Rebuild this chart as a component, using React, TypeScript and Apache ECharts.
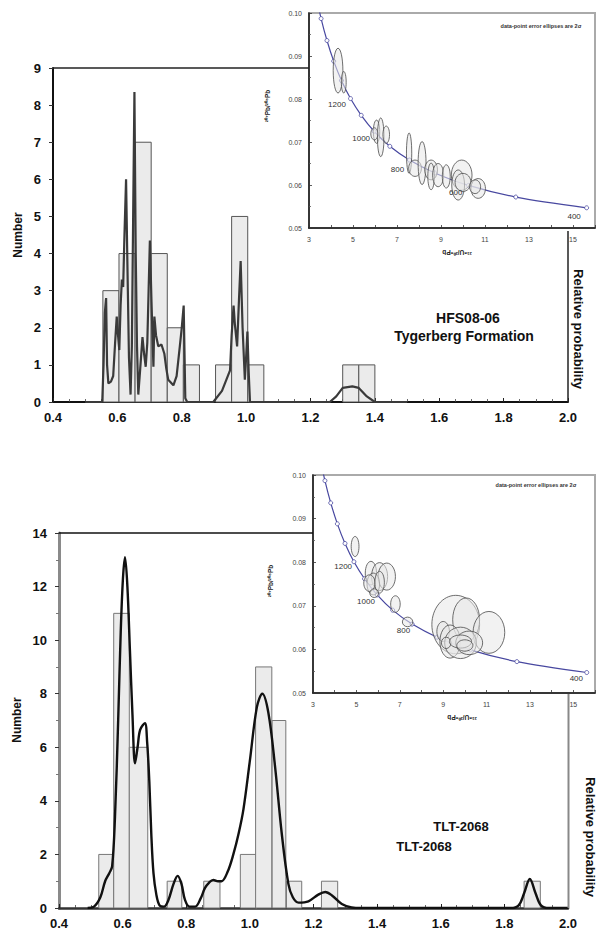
import React, { useEffect, useRef } from 'react';
import * as echarts from 'echarts';

// ---------- Top panel: HFS08-06 ----------
const topBinLeft = [0.555, 0.605, 0.655, 0.705, 0.755, 0.805, 0.905, 0.955, 1.005, 1.30, 1.35];
const topBinRight = [0.605, 0.655, 0.705, 0.755, 0.805, 0.855, 0.955, 1.005, 1.055, 1.35, 1.40];
const topCounts = [3, 4, 7, 4, 2, 1, 1, 5, 1, 1, 1];

const topCurveX = [0.50, 0.553, 0.557, 0.561, 0.565, 0.568, 0.572, 0.580, 0.587, 0.593, 0.598, 0.602, 0.606, 0.610, 0.614, 0.618, 0.622, 0.627, 0.631, 0.636, 0.641, 0.645, 0.649, 0.653, 0.657, 0.661, 0.665, 0.671, 0.678, 0.683, 0.688, 0.693, 0.697, 0.701, 0.706, 0.712, 0.715, 0.720, 0.727, 0.737, 0.746, 0.752, 0.758, 0.774, 0.784, 0.794, 0.800, 0.806, 0.811, 0.817, 0.898, 0.925, 0.950, 0.955, 0.961, 0.965, 0.972, 0.978, 0.983, 0.989, 0.996, 1.000, 1.004, 1.008, 1.012, 1.26, 1.28, 1.30, 1.33, 1.35, 1.375, 1.40, 1.50];
const topCurveY = [0, 0, 1.0, 2.4, 2.8, 1.0, 0.5, 0.55, 0.7, 1.6, 2.3, 1.8, 1.4, 2.6, 3.3, 3.1, 4.5, 6.0, 3.8, 1.2, 0.2, 1.5, 5.0, 8.35, 4.0, 1.5, 0.2, 0.9, 1.75, 1.3, 0.95, 1.6, 3.0, 4.35, 2.7, 0.95, 2.3, 1.8, 1.5, 1.55, 1.3, 0.9, 0.6, 0.45, 0.7, 1.5, 2.0, 2.6, 0.1, 0, 0, 0.3, 0.85, 1.8, 2.6, 2.1, 1.5, 2.8, 3.8, 2.0, 0.6, 1.2, 1.9, 0.8, 0, 0, 0.15, 0.38, 0.42, 0.38, 0.15, 0, 0];

// ---------- Bottom panel: TLT-2068 ----------
const botBinLeft = [0.525, 0.572, 0.621, 0.74, 0.855, 0.97, 1.018, 1.07, 1.115, 1.225, 1.862];
const botBinRight = [0.572, 0.621, 0.679, 0.786, 0.906, 1.022, 1.069, 1.113, 1.163, 1.276, 1.913];
const botCounts = [2, 11, 6, 1, 1, 2, 9, 7, 1, 1, 1];

const botCurveX = [0.49, 0.51, 0.53, 0.545, 0.558, 0.567, 0.576, 0.586, 0.594, 0.601, 0.6075, 0.615, 0.623, 0.631, 0.639, 0.647, 0.655, 0.670, 0.677, 0.684, 0.690, 0.697, 0.706, 0.716, 0.730, 0.744, 0.760, 0.773, 0.785, 0.796, 0.810, 0.828, 0.845, 0.859, 0.872, 0.885, 0.900, 0.911, 0.930, 0.948, 0.965, 0.980, 1.000, 1.022, 1.039, 1.058, 1.079, 1.100, 1.121, 1.135, 1.153, 1.184, 1.215, 1.237, 1.260, 1.289, 1.320, 1.350, 1.820, 1.845, 1.862, 1.880, 1.898, 1.915, 1.940, 2.0];
const botCurveY = [0, 0.05, 0.4, 1.0, 1.3, 1.55, 3.4, 7.0, 10.3, 12.3, 13.1, 12.0, 9.6, 7.2, 5.4, 6.0, 6.65, 6.9, 6.2, 4.7, 2.8, 1.3, 0.5, 0.1, 0.05, 0.3, 0.9, 1.2, 0.9, 0.3, 0.05, 0.05, 0.35, 0.75, 0.95, 1.05, 1.0, 1.0, 1.35, 2.0, 2.8, 3.7, 5.5, 7.5, 8.0, 7.3, 5.3, 2.8, 0.9, 0.4, 0.2, 0.25, 0.5, 0.6, 0.45, 0.15, 0.02, 0, 0, 0.1, 0.55, 1.08, 0.55, 0.1, 0, 0];

// ---------- Concordia (inset) ----------
const concordiaAge = [1700, 1600, 1500, 1400, 1300, 1200, 1100, 1000, 900, 800, 700, 600, 500, 400];
const concordiaX = [3.314, 3.550, 3.817, 4.123, 4.476, 4.887, 5.375, 5.959, 6.674, 7.568, 8.718, 10.25, 12.40, 15.62];
const concordiaY = [0.1042, 0.0987, 0.0936, 0.0888, 0.0843, 0.0801, 0.0762, 0.0725, 0.0690, 0.0658, 0.0628, 0.0599, 0.0572, 0.0547];

// ellipses: [centre 238U/206Pb, centre 207Pb/206Pb, half-width, half-height]
const topEllipses = [
  [4.32, 0.0866, 0.22, 0.0052], [4.58, 0.0839, 0.11, 0.0025],
  [6.07, 0.0724, 0.145, 0.0027], [6.26, 0.0711, 0.15, 0.0045], [6.51, 0.0717, 0.15, 0.0020], [5.97, 0.0719, 0.16, 0.0014],
  [7.55, 0.0674, 0.12, 0.0047], [7.82, 0.0639, 0.29, 0.0019], [8.14, 0.0651, 0.18, 0.0050], [8.55, 0.0635, 0.29, 0.0023],
  [8.55, 0.0620, 0.15, 0.0031], [8.87, 0.0623, 0.25, 0.0027], [9.24, 0.0620, 0.18, 0.0027], [9.94, 0.0623, 0.47, 0.0035],
  [9.78, 0.0600, 0.29, 0.0035], [10.0, 0.0606, 0.36, 0.0021], [10.69, 0.0592, 0.33, 0.0023], [10.55, 0.0596, 0.25, 0.0016],
];
const botEllipses = [
  [4.94, 0.0836, 0.18, 0.0023],
  [5.67, 0.0775, 0.26, 0.0027], [6.07, 0.0767, 0.37, 0.0032], [6.40, 0.0767, 0.40, 0.0031], [5.78, 0.0750, 0.29, 0.0025],
  [5.60, 0.0752, 0.26, 0.0019], [6.07, 0.0754, 0.22, 0.0025], [6.80, 0.0704, 0.22, 0.0019], [5.82, 0.0729, 0.20, 0.0010],
  [7.36, 0.0663, 0.24, 0.0011],
  [9.58, 0.0657, 1.10, 0.0067], [10.06, 0.0668, 0.62, 0.0050], [11.11, 0.0639, 0.73, 0.0048], [9.00, 0.0641, 0.29, 0.0023],
  [9.32, 0.0618, 0.47, 0.0038], [9.80, 0.0615, 0.73, 0.0036], [10.20, 0.0615, 0.62, 0.0027], [9.14, 0.0615, 0.22, 0.0013],
  [9.80, 0.0618, 0.51, 0.0015], [10.00, 0.0609, 0.37, 0.0013],
];

const topAgeText = ['1200', '1000', '800', '600', '400'];
const topAgeX = [4.27, 5.37, 7.02, 9.67, 15.05];
const topAgeY = [0.0787, 0.0709, 0.0635, 0.0582, 0.0526];
const botAgeText = ['1200', '1000', '800', '400'];
const botAgeX = [4.39, 5.44, 7.17, 15.14];
const botAgeY = [0.0790, 0.0710, 0.0644, 0.0534];

const FONT = '"Liberation Sans", Arial, sans-serif';

function histSeries(left: number[], right: number[], counts: number[], idx: number, stroke: string) {
  return {
    type: 'custom',
    xAxisIndex: idx,
    yAxisIndex: idx,
    z: 2,
    data: counts.map((c, i) => [left[i], right[i], c]),
    encode: { x: [0, 1], y: 2 },
    renderItem: (params: any, api: any) => {
      const a = api.coord([api.value(0), api.value(2)]);
      const b = api.coord([api.value(1), 0]);
      return {
        type: 'rect',
        shape: { x: a[0], y: a[1], width: b[0] - a[0], height: b[1] - a[1] },
        style: { fill: '#ebebeb', stroke, lineWidth: 1 },
      };
    },
  };
}

function ellipseSeries(data: number[][], idx: number) {
  return {
    type: 'custom',
    xAxisIndex: idx,
    yAxisIndex: idx,
    z: 4,
    clip: true,
    data,
    encode: { x: 0, y: 1 },
    renderItem: (params: any, api: any) => {
      const c = api.coord([api.value(0), api.value(1)]);
      const s = api.size([api.value(2), api.value(3)]);
      return {
        type: 'ellipse',
        shape: { cx: c[0], cy: c[1], rx: s[0], ry: s[1] },
        style: { fill: 'rgba(232,232,232,0.55)', stroke: '#4a4a4a', lineWidth: 0.8 },
      };
    },
  };
}

function ageLabelSeries(texts: string[], xs: number[], ys: number[], idx: number) {
  return {
    type: 'custom',
    xAxisIndex: idx,
    yAxisIndex: idx,
    z: 5,
    data: xs.map((x, i) => [x, ys[i]]),
    encode: { x: 0, y: 1 },
    renderItem: (params: any, api: any) => {
      const c = api.coord([api.value(0), api.value(1)]);
      return {
        type: 'text',
        x: c[0],
        y: c[1],
        style: {
          text: texts[params.dataIndex], fontSize: 8, fontFamily: FONT, fill: '#333',
          align: 'center', verticalAlign: 'middle',
        },
      };
    },
  };
}

function concordiaSeries(idx: number) {
  return {
    type: 'line',
    xAxisIndex: idx,
    yAxisIndex: idx,
    z: 3,
    clip: true,
    smooth: 0.3,
    data: concordiaX.map((x, i) => [x, concordiaY[i], concordiaAge[i]]),
    symbol: 'circle',
    symbolSize: 4,
    showSymbol: true,
    itemStyle: { color: '#ffffff', borderColor: '#4848a0', borderWidth: 0.8 },
    lineStyle: { color: '#4848a0', width: 1.2 },
  };
}

function mainX(idx: number, color: string, width: number) {
  return {
    type: 'value', gridIndex: idx, min: 0.4, max: 2.0, interval: 0.2,
    axisLine: { show: true, onZero: false, lineStyle: { color, width } },
    axisTick: { show: true, inside: true, length: 4, lineStyle: { color: '#222', width: 1 } },
    minorTick: { show: true, splitNumber: 4, length: 3, lineStyle: { color: '#444', width: 0.8 } },
    splitLine: { show: false },
    axisLabel: {
      formatter: (v: number) => v.toFixed(1), fontSize: 13, fontWeight: 'bold', fontFamily: FONT,
      color: '#111', margin: 9, showMinLabel: true, showMaxLabel: true,
    },
  };
}

function mainY(idx: number, max: number, interval: number, color: string, width: number, minor: boolean) {
  return {
    type: 'value', gridIndex: idx, min: 0, max, interval,
    axisLine: { show: true, onZero: false, lineStyle: { color, width } },
    axisTick: { show: true, inside: false, length: 4, lineStyle: { color: '#333', width: 1 } },
    minorTick: { show: minor, splitNumber: 2, length: 3, lineStyle: { color: '#777', width: 1 } },
    splitLine: { show: false },
    axisLabel: { fontSize: 13, fontWeight: 'bold', fontFamily: FONT, color: '#111', margin: 12 },
  };
}

function insetX(idx: number) {
  return {
    type: 'value', gridIndex: idx, min: 3, max: 16, interval: 1,
    axisLine: { show: true, onZero: false, lineStyle: { color: '#111', width: 1.5 } },
    axisTick: { show: true, inside: true, length: 3, lineStyle: { color: '#333', width: 0.8 } },
    splitLine: { show: false },
    axisLabel: {
      formatter: (v: number) => (Math.round(v) % 2 === 1 ? String(Math.round(v)) : ''),
      fontSize: 7, fontFamily: FONT, color: '#444', margin: 8, showMinLabel: true, showMaxLabel: true,
    },
  };
}

function insetY(idx: number) {
  return {
    type: 'value', gridIndex: idx, min: 0.05, max: 0.10, interval: 0.01,
    axisLine: { show: true, onZero: false, lineStyle: { color: '#111', width: 1.5 } },
    axisTick: { show: true, inside: true, length: 3, lineStyle: { color: '#333', width: 0.8 } },
    minorTick: { show: true, splitNumber: 2, length: 2, lineStyle: { color: '#555', width: 0.8 } },
    splitLine: { show: false },
    axisLabel: {
      formatter: (v: number) => v.toFixed(2), fontSize: 7, fontFamily: FONT, color: '#444', margin: 7,
      showMinLabel: true, showMaxLabel: true,
    },
  };
}

function txt(text: string, x: number, y: number, size: number, bold: boolean, rotation = 0, fill = '#111') {
  return {
    type: 'text', x, y, rotation, z: 50,
    style: {
      text, fontSize: size, fontWeight: bold ? 'bold' : 'normal', fontFamily: FONT, fill,
      align: 'center', verticalAlign: 'middle', textAlign: 'center', textVerticalAlign: 'middle',
    },
  };
}

function ln(x1: number, y1: number, x2: number, y2: number, stroke: string, lineWidth: number) {
  return { type: 'line', z: 50, shape: { x1, y1, x2, y2 }, style: { stroke, lineWidth } };
}

export default function App() {
  const ref = useRef<HTMLDivElement>(null);
  useEffect(() => {
    if (!ref.current) return;
    const chart = echarts.init(ref.current, undefined, { renderer: 'svg' });
    const option: any = {
      animation: false,
      backgroundColor: '#ffffff',
      grid: [
        { left: 53, top: 68, width: 515, height: 334 },
        { left: 309, top: 13, width: 297.7, height: 215, show: true, backgroundColor: '#ffffff', borderColor: '#aaaaaa', borderWidth: 2 },
        { left: 59, top: 533, width: 509, height: 375 },
        { left: 313, top: 475, width: 296.4, height: 218, show: true, backgroundColor: '#ffffff', borderColor: '#aaaaaa', borderWidth: 2 },
      ],
      xAxis: [mainX(0, '#111', 2), insetX(1), mainX(2, '#333', 2.5), insetX(3)],
      yAxis: [
        mainY(0, 9, 1, '#111', 2, false),
        insetY(1),
        mainY(2, 14, 2, '#8a8a8a', 3, true),
        insetY(3),
      ],
      series: [
        histSeries(topBinLeft, topBinRight, topCounts, 0, '#555'),
        {
          type: 'line', xAxisIndex: 0, yAxisIndex: 0, z: 3, showSymbol: false, smooth: false,
          data: topCurveX.map((x, i) => [x, topCurveY[i]]),
          lineStyle: { color: '#3a3a3a', width: 2.2 },
        },
        concordiaSeries(1),
        ellipseSeries(topEllipses, 1),
        ageLabelSeries(topAgeText, topAgeX, topAgeY, 1),
        histSeries(botBinLeft, botBinRight, botCounts, 2, '#777'),
        {
          type: 'line', xAxisIndex: 2, yAxisIndex: 2, z: 3, showSymbol: false, smooth: 0.35,
          data: botCurveX.map((x, i) => [x, botCurveY[i]]),
          lineStyle: { color: '#111', width: 2.4 },
        },
        concordiaSeries(3),
        ellipseSeries(botEllipses, 3),
        ageLabelSeries(botAgeText, botAgeX, botAgeY, 3),
      ],
      graphic: [
        ln(53, 68, 309, 68, '#222', 1.5),
        ln(568, 231, 568, 402, '#222', 1.5),
        ln(59, 533, 313, 533, '#111', 1.5),
        ln(568.5, 694, 568.5, 908, '#888', 2),
        txt('Number', 18, 235, 12, true, Math.PI / 2),
        txt('Number', 17, 720, 12, true, Math.PI / 2),
        txt('Relative probability', 578, 329, 13, true, -Math.PI / 2),
        txt('Relative probability', 590, 837, 13, true, -Math.PI / 2),
        txt('HFS08-06', 468, 318, 14, true),
        txt('Tygerberg Formation', 464, 336, 14, true),
        txt('TLT-2068', 461, 826, 13, true),
        txt('TLT-2068', 424, 846, 13, true),
        txt('data-point error ellipses are 2σ', 541, 26, 5.5, true, 0, '#333'),
        txt('data-point error ellipses are 2σ', 536, 485, 5.5, true, 0, '#333'),
        txt('²⁰⁷Pb/²⁰⁶Pb', 267, 106, 6.5, true, Math.PI / 2, '#222'),
        txt('²⁰⁷Pb/²⁰⁶Pb', 270, 581, 6.5, true, Math.PI / 2, '#222'),
        txt('²³⁸U/²⁰⁶Pb', 457, 252, 6.5, true, Math.PI, '#222'),
        txt('²³⁸U/²⁰⁶Pb', 462, 717, 6.5, true, Math.PI, '#222'),
      ],
    };
    chart.setOption(option);
    return () => chart.dispose();
  }, []);
  return (
    <div
      ref={ref}
      style={{ position: 'absolute', left: 0, top: 0, width: 598, height: 933, background: '#fff' }}
    />
  );
}
